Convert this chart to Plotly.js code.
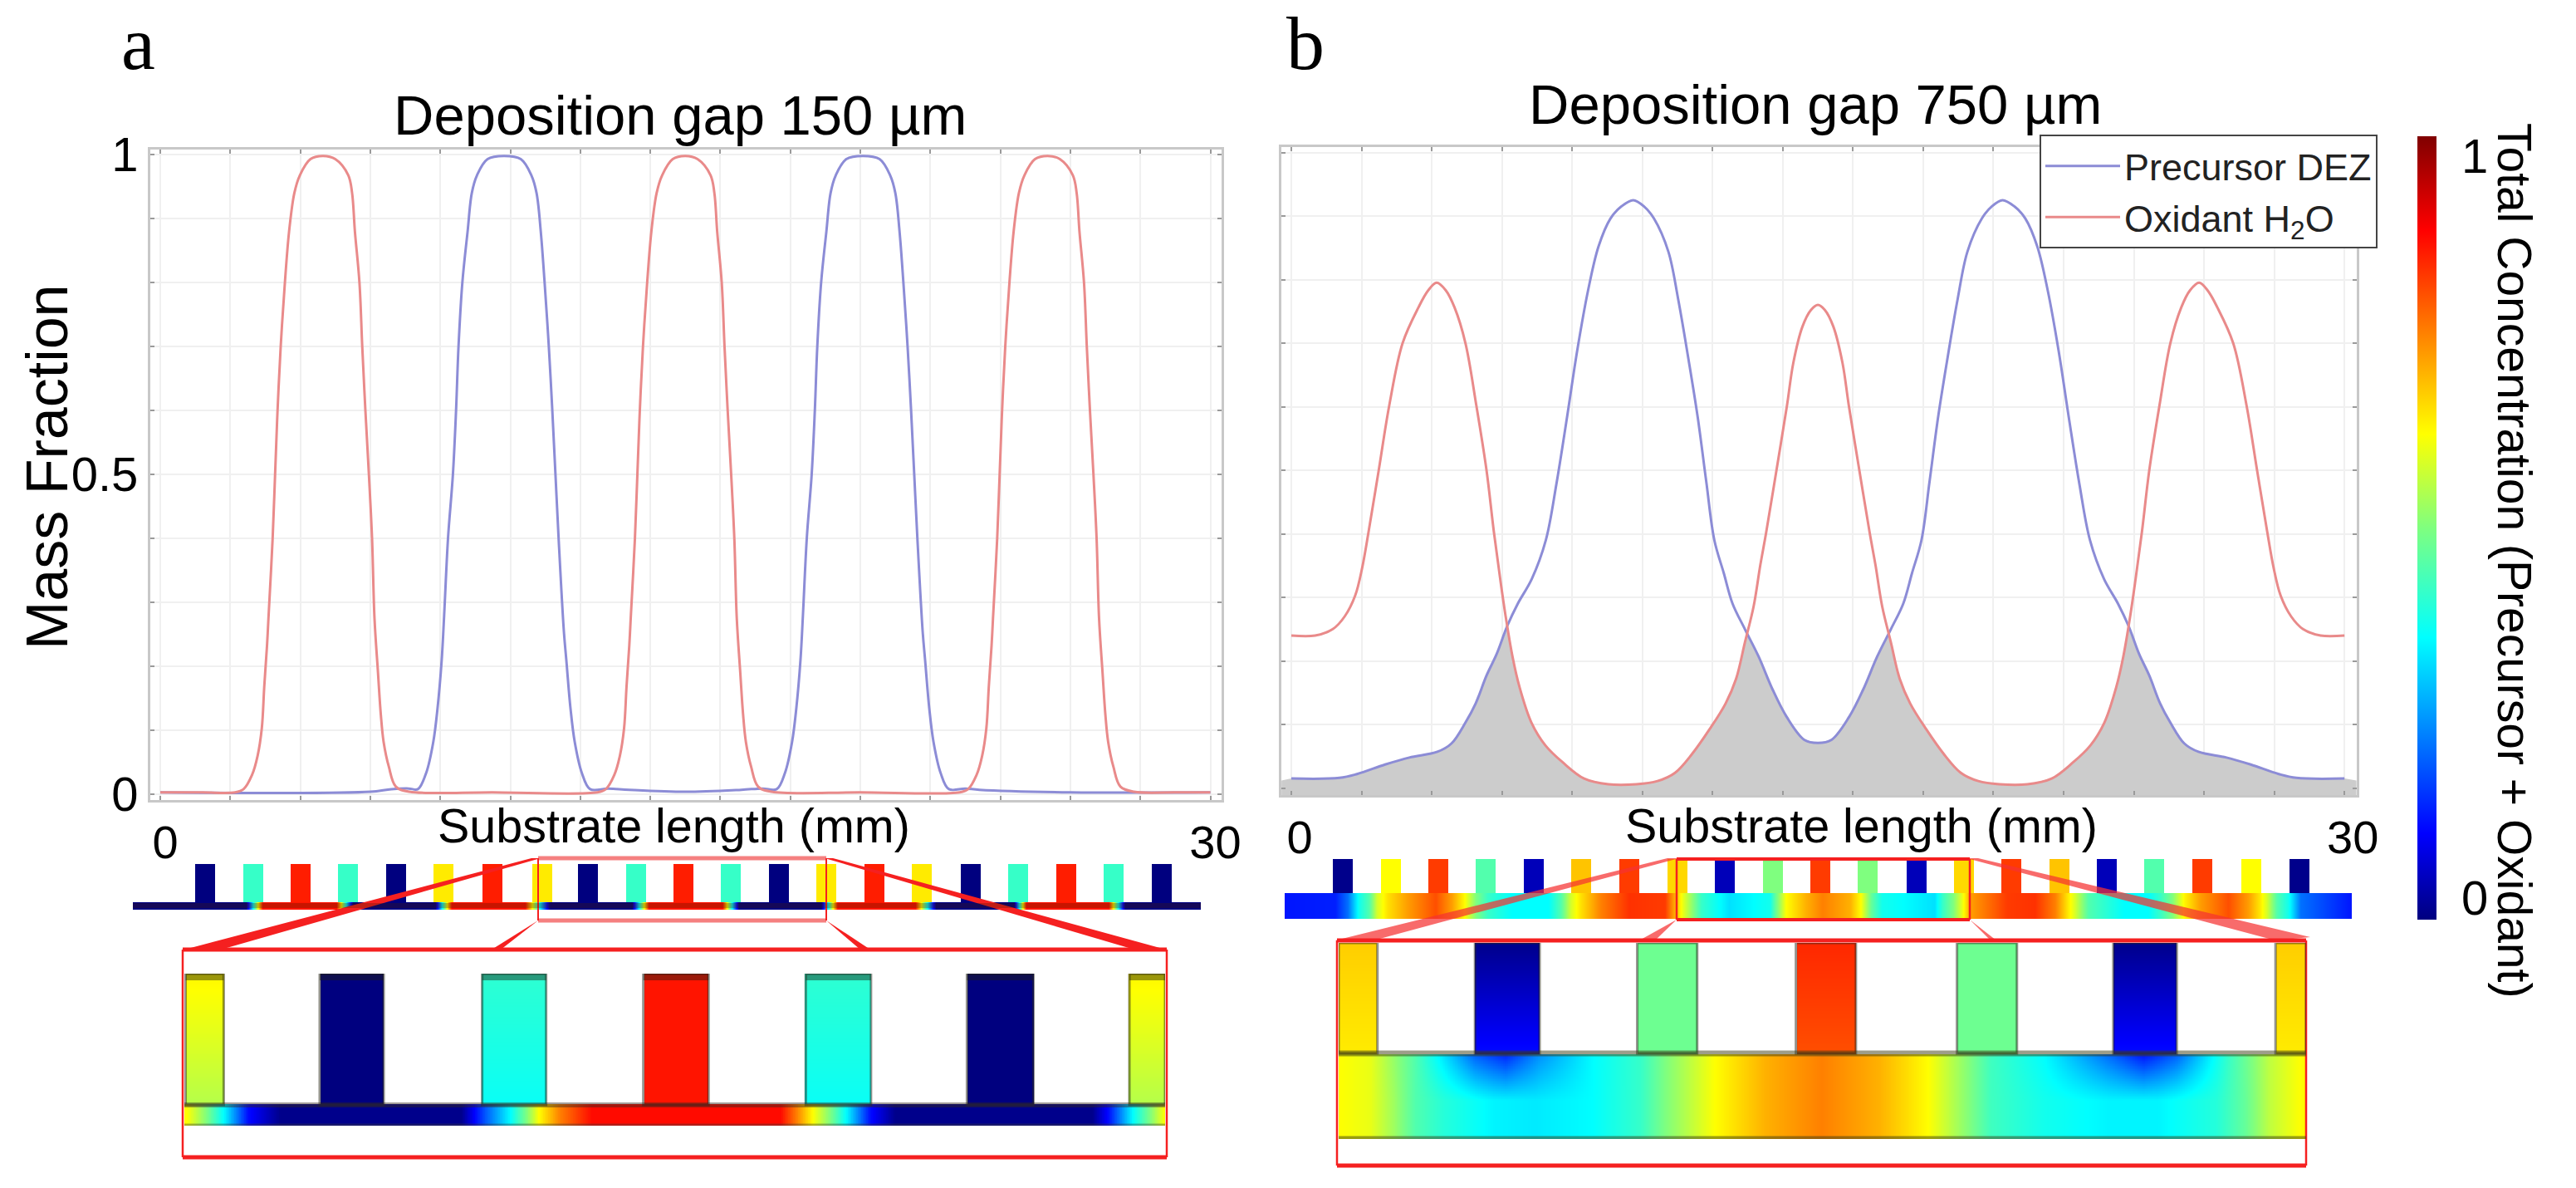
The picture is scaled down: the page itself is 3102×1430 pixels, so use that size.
<!DOCTYPE html>
<html><head><meta charset="utf-8">
<script src="https://cdn.plot.ly/plotly-3.0.1.min.js"></script>
<style>html,body{margin:0;padding:0;background:#fff}</style></head>
<body><div id="chart" style="width:3102px;height:1430px"></div>
<script>
// ---------- panel a curves (mm, mass fraction)
const aOxidantX=[0,1.2,2.14,2.38,2.62,2.78,2.9,2.97,3.05,3.09,3.21,3.28,3.35,3.44,3.56,3.68,3.83,3.99,4.29,4.65,5.0,5.37,5.48,5.56,5.69,5.77,5.86,5.96,6.05,6.12,6.22,6.3,6.38,6.53,6.73,7.12,9.5,12.49,12.73,12.97,13.13,13.25,13.32,13.4,13.44,13.56,13.63,13.7,13.79,13.91,14.03,14.18,14.34,14.64,15,15.35,15.72,15.83,15.91,16.04,16.12,16.21,16.31,16.4,16.47,16.57,16.65,16.73,16.88,17.08,17.47,20,22.84,23.08,23.32,23.48,23.6,23.67,23.75,23.79,23.91,23.98,24.05,24.14,24.26,24.38,24.53,24.69,24.99,25.35,25.7,26.07,26.18,26.26,26.39,26.47,26.56,26.66,26.75,26.82,26.92,27,27.08,27.23,27.43,27.82,29,30];
const aOxidantY=[.003,.003,.003,.008,.03,.06,.103,.168,.233,.275,.4,.5,.6,.7,.8,.88,.94,.968,.993,.998,.993,.968,.94,.88,.8,.7,.6,.5,.4,.275,.19,.125,.082,.043,.012,.004,.003,.003,.008,.03,.06,.103,.168,.233,.275,.4,.5,.6,.7,.8,.88,.94,.968,.993,.998,.993,.968,.94,.88,.8,.7,.6,.5,.4,.275,.19,.125,.082,.043,.012,.004,.003,.003,.008,.03,.06,.103,.168,.233,.275,.4,.5,.6,.7,.8,.88,.94,.968,.993,.998,.993,.968,.94,.88,.8,.7,.6,.5,.4,.275,.19,.125,.082,.043,.012,.004,.003,.003];
const aPrecursorX=[0,3,6,6.6,7.1,7.36,7.6,7.8,7.92,8.04,8.11,8.22,8.36,8.45,8.52,8.63,8.78,8.9,9.05,9.35,9.82,10.3,10.6,10.75,10.87,10.98,11.1,11.2,11.29,11.38,11.53,11.6,11.72,11.84,12.04,12.28,12.8,13.4,15,16.6,17.2,17.61,17.85,18.05,18.17,18.29,18.36,18.47,18.61,18.7,18.77,18.88,19.03,19.15,19.3,19.6,20.07,20.55,20.85,21.0,21.12,21.23,21.35,21.45,21.54,21.63,21.78,21.85,21.97,22.09,22.29,22.53,23,23.4,26,30];
const aPrecursorY=[.003,.002,.004,.008,.009,.008,.034,.082,.134,.21,.28,.4,.5,.6,.7,.8,.88,.94,.968,.993,.998,.993,.968,.94,.88,.8,.7,.6,.5,.4,.255,.21,.134,.082,.034,.008,.009,.007,.004,.007,.009,.008,.034,.082,.134,.21,.28,.4,.5,.6,.7,.8,.88,.94,.968,.993,.998,.993,.968,.94,.88,.8,.7,.6,.5,.4,.255,.21,.134,.082,.034,.008,.009,.007,.003,.003];
// ---------- panel b curves
const bOxidantX=[0,.68,1.18,1.52,1.82,2.02,2.2,2.49,2.79,3.17,3.62,3.9,4.14,4.4,4.65,4.96,5.27,5.56,5.77,5.95,6.1,6.3,6.5,6.84,7.24,7.74,8.34,9.03,9.83,10.43,10.93,11.42,11.92,12.37,12.67,12.92,13.17,13.36,13.52,13.82,14.12,14.3,14.56,14.8,15,15.2,15.44,15.7,15.88,16.18,16.48,16.64,16.83,17.08,17.33,17.63,18.08,18.58,19.07,19.57,20.17,20.97,21.66,22.26,22.76,23.16,23.5,23.7,23.9,24.05,24.23,24.44,24.73,25.04,25.35,25.6,25.86,26.1,26.38,26.83,27.21,27.51,27.8,27.98,28.18,28.48,28.82,29.32,30];
const bOxidantY=[.24,.24,.25,.27,.303,.347,.403,.5,.602,.70,.756,.783,.795,.783,.756,.70,.602,.5,.403,.329,.272,.207,.159,.103,.067,.04,.015,.006,.006,.011,.024,.054,.093,.133,.172,.229,.286,.351,.4,.5,.602,.669,.726,.752,.76,.752,.726,.669,.602,.5,.4,.351,.286,.229,.172,.133,.093,.054,.024,.011,.006,.006,.015,.04,.067,.103,.159,.207,.272,.329,.403,.5,.602,.70,.756,.783,.795,.783,.756,.70,.602,.5,.403,.347,.303,.27,.25,.24,.24];
const bPrecursorX=[0,1.37,1.87,2.67,3.36,4.16,4.56,4.96,5.25,5.56,5.85,6.15,6.45,6.85,7.25,7.55,7.85,8.14,8.45,8.75,9.09,9.4,9.74,10.05,10.33,10.74,11.02,11.33,11.58,11.82,12.05,12.32,12.57,12.92,13.31,13.71,14.11,14.61,15,15.39,15.89,16.29,16.69,17.08,17.43,17.68,17.95,18.18,18.42,18.67,18.98,19.26,19.67,19.95,20.26,20.6,20.91,21.25,21.55,21.86,22.15,22.45,22.75,23.15,23.55,23.85,24.15,24.44,24.75,25.04,25.44,25.84,26.64,27.33,28.13,28.63,30];
const bPrecursorY=[.015,.016,.022,.037,.048,.057,.07,.103,.133,.177,.211,.255,.29,.329,.39,.478,.582,.687,.782,.852,.896,.915,.925,.915,.896,.844,.769,.669,.582,.482,.39,.338,.29,.25,.207,.155,.112,.076,.071,.076,.112,.155,.207,.25,.29,.338,.39,.482,.582,.669,.769,.844,.896,.915,.925,.915,.896,.852,.782,.687,.582,.478,.39,.329,.29,.255,.211,.177,.133,.103,.07,.057,.048,.037,.022,.016,.015];
const bOverlapX=[-.28,0,1.37,1.87,2.67,3.36,4.16,4.56,4.96,5.25,5.56,5.85,6.15,6.3,6.5,6.84,7.24,7.74,8.34,9.03,9.83,10.43,10.93,11.42,11.92,12.37,12.67,12.92,13.0,13.31,13.71,14.11,14.61,15,15.39,15.89,16.29,16.69,17.0,17.08,17.33,17.63,18.08,18.58,19.07,19.57,20.17,20.97,21.66,22.26,22.76,23.16,23.5,23.7,23.85,24.15,24.44,24.75,25.04,25.44,25.84,26.64,27.33,28.13,28.63,30,30.34];
const bOverlapY=[.012,.015,.016,.022,.037,.048,.057,.07,.103,.133,.177,.211,.25,.207,.159,.103,.067,.04,.015,.006,.006,.011,.024,.054,.093,.133,.172,.229,.243,.207,.155,.112,.076,.071,.076,.112,.155,.207,.243,.229,.172,.133,.093,.054,.024,.011,.006,.006,.015,.04,.067,.103,.159,.207,.25,.211,.177,.133,.103,.07,.057,.048,.037,.022,.016,.015,.012];
// ---------- substrate strips: tooth centres (mm) and concentrations
const stripACentres=[2.03,3.38,4.71,6.04,7.39,8.72,10.1,11.5,12.78,14.14,15.47,16.8,18.15,19.48,20.83,22.16,23.54,24.87,26.22,27.55,28.9];
const stripAConc=[0,.42,.85,.42,0,.64,.85,.64,0,.42,.85,.42,0,.64,.85,.64,0,.42,.85,.42,0];
const stripABaseX=[0,3.19,3.65,5.73,6.19,8.5,8.96,11.03,11.73,14.03,14.5,16.57,17.03,19.34,19.8,21.99,22.57,24.76,25.1,27.42,27.88,30];
const stripABaseZ=[0,0,.86,.86,0,0,.86,.86,0,0,.86,.86,0,0,.86,.86,0,0,.86,.86,0,0];
const stripBCentres=[1.63,2.99,4.32,5.65,7.0,8.33,9.69,11.04,12.37,13.73,15.06,16.39,17.77,19.1,20.43,21.78,23.11,24.44,25.8,27.18,28.53];
const stripBConc=[.01,.62,.82,.45,.05,.68,.82,.66,.05,.5,.82,.5,.05,.66,.82,.68,.05,.45,.82,.62,.01];
const stripBBaseX=[0,1.43,1.78,2.1,2.38,2.6,2.9,3.46,4.25,4.7,5.04,5.38,5.72,6.4,7.42,7.77,8.05,8.33,8.9,9.69,10.7,10.93,11.2,11.5,11.72,12.5,13.65,13.8,14.1,14.66,15.13,15.9,16.2,16.5,16.8,18.28,18.5,18.8,19.05,19.3,20.31,21.1,21.67,22,22.23,22.6,23.6,24.28,24.62,24.96,25.3,25.75,26.54,27.1,27.4,27.62,27.9,28.22,28.57,30];
const stripBBaseZ=[.13,.14,.22,.38,.45,.58,.65,.72,.8,.72,.63,.5,.42,.36,.36,.45,.58,.65,.75,.83,.82,.72,.6,.5,.42,.33,.38,.47,.62,.7,.75,.7,.62,.47,.38,.33,.42,.5,.6,.72,.82,.83,.75,.65,.58,.45,.36,.36,.42,.5,.63,.72,.8,.72,.65,.58,.45,.38,.22,.13];
// ---------- magnified strips
const zoomALeft=[11.51,12.6,13.92,15.23,16.55,17.86,19.18];
const zoomARight=[11.82,13.12,14.44,15.76,17.08,18.4,19.47];
const zoomATop=[.63,0,.41,.86,.41,0,.63];
const zoomABottom=[.55,0,.37,.86,.37,0,.55];
const zoomABaseX=[11.52,11.68,11.82,12.02,12.28,13.75,13.95,14.15,14.28,14.38,14.55,14.81,16.35,16.48,16.61,16.75,16.88,17.08,17.28,18.88,19.01,19.21,19.35,19.47];
const zoomABaseZ=[.62,.5,.36,.12,.01,.01,.2,.36,.5,.62,.75,.87,.87,.75,.62,.5,.36,.12,.01,.01,.12,.36,.5,.62];
const zoomBLeft=[11.03,12.19,13.57,14.92,16.29,17.62,19.0];
const zoomBRight=[11.36,12.74,14.08,15.43,16.8,18.16,19.26];
const zoomBTop=[.67,.01,.48,.84,.48,.01,.67];
const zoomBBottom=[.64,.12,.48,.8,.48,.12,.64];
const zoomBBaseX=[11.03,11.3,11.5,11.68,11.93,12.35,12.7,13.19,13.6,13.81,14.23,14.66,15.14,15.63,16.05,16.4,16.58,17.03,17.58,18.0,18.5,18.74,18.95,19.26];
const zoomBBaseZ=[.62,.6,.53,.45,.4,.35,.34,.36,.42,.5,.62,.7,.75,.7,.62,.5,.43,.38,.35,.35,.4,.47,.56,.63];
const zoomBBowlX=[11.03,11.3,11.68,12.19,12.45,12.74,13.2,13.6,13.81,14.23,14.66,15.14,15.63,16.05,16.4,16.58,17.03,17.62,17.88,18.16,18.6,18.95,19.26];
const zoomBBowlZ=[.62,.6,.45,.2,.14,.25,.36,.42,.5,.62,.7,.75,.7,.62,.5,.43,.36,.2,.12,.2,.42,.56,.63];
// ---------- text
const panelTitles=['Deposition gap 150 µm','Deposition gap 750 µm'];
const xTitle='Substrate length (mm)', yTitle='Mass Fraction';
const cbarTitle='Total Concentration (Precursor + Oxidant)';
const xTickVals=[0,2,4,6,8,10,12,14,16,18,20,22,24,26,28,30];
const xTickText=['0','','','','','','','','','','','','','','','30'];
const yTickVals=[0,.1,.2,.3,.4,.5,.6,.7,.8,.9,1];
const yTickText=['0','','','','','0.5','','','','','1'];

const W=3102,H=1430, X=p=>p/W, Y=p=>1-p/H;
const FONT='"Liberation Sans",Arial,sans-serif', SERIF='"Liberation Serif",serif';
const jet=[[0,'#00007f'],[.11,'#0000ff'],[.36,'#00ffff'],[.5,'#7fff7f'],[.62,'#ffff00'],[.88,'#ff0000'],[1,'#800000']];
const RED='#e98a8a', BLUE='#8c8cd6';
const lerp=(xs,zs,x)=>{ if(x<=xs[0])return zs[0]; for(let i=1;i<xs.length;i++) if(x<=xs[i]) return zs[i-1]+(zs[i]-zs[i-1])*(x-xs[i-1])/(xs[i]-xs[i-1]); return zs[zs.length-1]; };

function strip(n,xr,domX,baseH,toothH,lefts,rights,tops,bottoms,baseFn){
  const nx=Math.round((domX[1]-domX[0])/n), ny=Math.round((baseH+toothH)/n);
  const xs=[],ys=[],z=[];
  for(let i=0;i<nx;i++) xs.push(xr[0]+(xr[1]-xr[0])*(i+.5)/nx);
  for(let j=0;j<ny;j++){
    const y=(baseH+toothH)*(j+.5)/ny; ys.push(y);
    const row=[];
    for(let i=0;i<nx;i++){
      const x=xs[i];
      if(y<baseH){row.push(baseFn(x,y/baseH));continue;}
      let v=null;
      for(let k=0;k<lefts.length;k++) if(x>=lefts[k]&&x<=rights[k]){const t=(y-baseH)/toothH; v=bottoms[k]+(tops[k]-bottoms[k])*t;break;}
      row.push(v);
    }
    z.push(row);
  }
  return {xs,ys,z};
}
const half=.28;
const SA=strip(1,[0,30],[160,1446],9,46,stripACentres.map(c=>c-half),stripACentres.map(c=>c+half),stripAConc,stripAConc,(x)=>lerp(stripABaseX,stripABaseZ,x));
const SB=strip(1,[0,30],[1547,2832],31,41,stripBCentres.map(c=>c-half),stripBCentres.map(c=>c+half),stripBConc,stripBConc,(x)=>lerp(stripBBaseX,stripBBaseZ,x));
const ZA=strip(2,[11.5,19.47],[222,1403],25,158,zoomALeft,zoomARight,zoomATop,zoomABottom,(x)=>lerp(zoomABaseX,zoomABaseZ,x));
const ZB=strip(2,[11.03,19.26],[1612,2777],103,133,zoomBLeft,zoomBRight,zoomBTop,zoomBBottom,(x,t)=>{
  const m=lerp(zoomBBaseX,zoomBBaseZ,x), b=lerp(zoomBBowlX,zoomBBowlZ,x); const w=Math.max(0,(t-.45)/.55); return m+(b-m)*w;});

const hm=(S,xa,ya,extra)=>Object.assign({type:'heatmap',x:S.xs,y:S.ys,z:S.z,xaxis:xa,yaxis:ya,zmin:0,zmax:1,colorscale:jet,showscale:false,hoverinfo:'skip',hoverongaps:false},extra||{});
const line=(x,y,color,xa,ya,name,show)=>({type:'scatter',mode:'lines',x,y,xaxis:xa,yaxis:ya,name,showlegend:!!show,line:{color,width:3,shape:'spline',smoothing:1},hoverinfo:'skip'});

const data=[
 line(aPrecursorX,aPrecursorY,BLUE,'x','y','Precursor DEZ',false),
 line(aOxidantX,aOxidantY,RED,'x','y','Oxidant H<sub>2</sub>O',false),
 {type:'scatter',mode:'lines',x:[-.28,30.34],y:[-.011,-.011],xaxis:'x2',yaxis:'y2',line:{width:0},showlegend:false,hoverinfo:'skip'},
 {type:'scatter',mode:'lines',x:bOverlapX,y:bOverlapY,xaxis:'x2',yaxis:'y2',line:{width:0},fill:'tonexty',fillcolor:'#cccccc',showlegend:false,hoverinfo:'skip'},
 line(bPrecursorX,bPrecursorY,BLUE,'x2','y2','Precursor DEZ',true),
 line(bOxidantX,bOxidantY,RED,'x2','y2','Oxidant H<sub>2</sub>O',true),
 hm(SA,'x3','y3',{showscale:true,colorbar:{thickness:23,thicknessmode:'pixels',len:943,lenmode:'pixels',x:X(2911),xanchor:'left',xpad:0,y:Y(164),yanchor:'top',ypad:0,outlinewidth:0,ticks:'',showticklabels:false}}),
 hm(ZA,'x4','y4'),
 hm(SB,'x5','y5'),
 hm(ZB,'x6','y6')
];

const mainX=(dom,range,shift)=>({domain:[X(dom[0]),X(dom[1])],range,tickvals:xTickVals,ticktext:xTickText,ticks:'inside',ticklen:5,tickwidth:2,tickcolor:'#9a9a9a',showgrid:true,gridcolor:'#f0f0f0',gridwidth:2,zeroline:false,showline:true,linecolor:'#c8c8c8',linewidth:3,mirror:'ticks',tickfont:{family:FONT,size:56,color:'#000'},ticklabelstandoff:0,ticklabelshift:shift});
const mainY=(dom,range,anchor)=>({domain:[Y(dom[1]),Y(dom[0])],range,anchor,tickvals:yTickVals,ticks:'inside',ticklen:5,tickwidth:2,tickcolor:'#9a9a9a',showgrid:true,gridcolor:'#f0f0f0',gridwidth:2,zeroline:false,showline:true,linecolor:'#c8c8c8',linewidth:3,mirror:'ticks',tickfont:{family:FONT,size:58,color:'#000'}});
const hidden=(dom,range,anchor)=>({domain:dom,range,anchor,visible:false,fixedrange:true});

const tri=(pts,fill)=>({type:'path',xref:'paper',yref:'paper',path:'M'+pts.map(p=>X(p[0])+','+Y(p[1])).join('L')+'Z',fillcolor:fill,line:{width:0},layer:'above'});
const seg=(a,b,w,color)=>({type:'line',xref:'paper',yref:'paper',x0:X(a[0]),y0:Y(a[1]),x1:X(b[0]),y1:Y(b[1]),line:{color:color||'#f52020',width:w},layer:'above'});
const rectLines=(l,t,r,b,wh,wv)=>[seg([l,t],[r,t],wh),seg([l,b],[r,b],wh),seg([l,t],[l,b],wv),seg([r,t],[r,b],wv)];
const shapes=[
 tri([[640,1033],[651,1033],[266,1143],[222,1143]],'#f52020'),
 tri([[993,1033],[1003,1033],[1404,1143],[1366,1143]],'#f52020'),
 tri([[648,1108],[592,1143],[603,1143]],'#f52020'),
 tri([[995,1108],[1048,1143],[1036,1143]],'#f52020'),
 seg([648,1033],[995,1033],5,'#f58080'),seg([648,1108],[995,1108],5,'#f58080'),
 seg([648,1033],[648,1108],2),seg([995,1033],[995,1108],2),
 ...rectLines(220,1143,1405,1393,5,2.5),
 tri([[2008,1033],[2022,1033],[1654,1132],[1608,1132]],'rgba(245,50,50,.72)'),
 tri([[2368,1033],[2382,1033],[2782,1128],[2740,1132]],'rgba(245,50,50,.72)'),
 tri([[2019,1107],[1974,1132],[1993,1132]],'rgba(245,50,50,.72)'),
 tri([[2372,1107],[2397,1132],[2404,1132]],'rgba(245,50,50,.72)'),
 seg([2019,1034],[2372,1034],4),seg([2019,1107],[2372,1107],4),
 seg([2019,1034],[2019,1107],2.5),seg([2372,1034],[2372,1107],2.5),
 ...rectLines(1610,1132,2777,1403,5,2.5)
];
const rim=(xa,ya,lefts,rights,baseH,toothH,bandH)=>{
  const out=[];
  lefts.forEach((l,i)=>{
    out.push({type:'rect',xref:xa,yref:ya,x0:l,x1:rights[i],y0:baseH,y1:baseH+toothH,line:{color:'rgba(40,40,30,.5)',width:3},fillcolor:'rgba(0,0,0,0)',layer:'above'});
    if(bandH) out.push({type:'rect',xref:xa,yref:ya,x0:l,x1:rights[i],y0:baseH+toothH-bandH,y1:baseH+toothH,line:{width:0},fillcolor:'rgba(30,30,20,.45)',layer:'above'});
  });
  return out;
};
shapes.push(...rim('x4','y4',zoomALeft,zoomARight,25,158,8));
shapes.push(...rim('x6','y6',zoomBLeft,zoomBRight,103,133,0));
const band=(xa,ya,x0,x1,y,w,c)=>({type:'line',xref:xa,yref:ya,x0,x1,y0:y,y1:y,line:{color:c,width:w},layer:'above'});
shapes.push(band('x4','y4',11.5,19.47,25,6,'rgba(50,40,30,.45)'),band('x4','y4',11.5,19.47,0,5,'rgba(60,60,60,.4)'));
shapes.push(band('x6','y6',11.03,19.26,103,7,'rgba(60,60,20,.5)'),band('x6','y6',11.03,19.26,0,7,'rgba(60,60,20,.5)'));
shapes.push(band('x3','y3',0,30,5,6,'rgba(70,25,0,.3)'));

const note=(text,px,py,size,family,angle)=>({xref:'paper',yref:'paper',x:X(px),y:Y(py),text,showarrow:false,xanchor:'center',yanchor:'middle',textangle:angle||0,font:{family:family||FONT,size,color:'#000'}});
const annotations=[
 note('a',166,52,92,SERIF),note('b',1572,52,92,SERIF),
 note(panelTitles[0],819,138,67),note(panelTitles[1],2186,126,67),
 note(xTitle,811,994,57.5),note(xTitle,2241,994,57.5),
 note(yTitle,57,562,70,FONT,-90),
 note(cbarTitle,3028,674,57,FONT,90),
 note('1',2980,188,58),note('0',2980,1080,58)
];

const layout={width:W,height:H,margin:{l:0,r:0,t:0,b:0},paper_bgcolor:'#fff',plot_bgcolor:'#fff',showlegend:true,
 legend:{x:X(2456),y:Y(162),xanchor:'left',yanchor:'top',bgcolor:'#fff',bordercolor:'#444',borderwidth:2,itemwidth:90,entrywidth:325,entrywidthmode:'pixels',traceorder:'normal',font:{family:FONT,size:45,color:'#222'},tracegroupgap:0},
 xaxis:mainX([181,1471],[-.285,30.32],6),
 yaxis:Object.assign(mainY([180,963],[-.009,1.008],'x'),{ticktext:yTickText}),
 xaxis2:mainX([1543,2838],[-.284,30.35],10),
 yaxis2:Object.assign(mainY([177,957],[-.011,1.0085],'x2'),{showticklabels:false}),
 xaxis3:hidden([X(160),X(1446)],[0,30],'y3'),yaxis3:hidden([Y(1095),Y(1040)],[0,55],'x3'),
 xaxis4:hidden([X(222),X(1403)],[11.5,19.47],'y4'),yaxis4:hidden([Y(1355),Y(1172)],[0,183],'x4'),
 xaxis5:hidden([X(1547),X(2832)],[0,30],'y5'),yaxis5:hidden([Y(1106),Y(1034)],[0,72],'x5'),
 xaxis6:hidden([X(1612),X(2777)],[11.03,19.26],'y6'),yaxis6:hidden([Y(1371),Y(1135)],[0,236],'x6'),
 shapes,annotations};
layout.xaxis.anchor='y';layout.xaxis2.anchor='y2';
Plotly.newPlot('chart',data,layout,{staticPlot:true,displayModeBar:false});
</script></body></html>
